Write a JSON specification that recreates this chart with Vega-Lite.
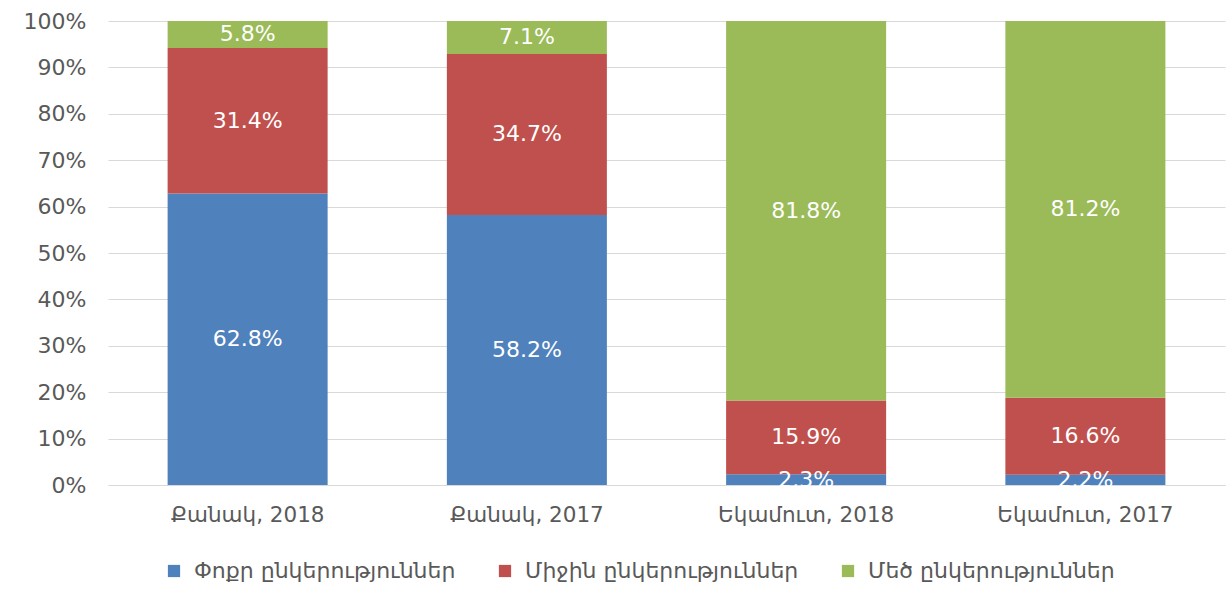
{
  "$schema": "https://vega.github.io/schema/vega-lite/v6.json",
  "autosize": "none",
  "width": 1117,
  "height": 464,
  "padding": {"left": 108, "top": 21, "right": 3, "bottom": 119},
  "background": "white",
  "config": {
    "view": {"stroke": null},
    "font": "DejaVu Sans"
  },
  "data": {
    "values": [
      {"cat": "Քանակ, 2018", "series": "Փոքր ընկերություններ", "order": 1, "v": 0.628},
      {"cat": "Քանակ, 2018", "series": "Միջին ընկերություններ", "order": 2, "v": 0.314},
      {"cat": "Քանակ, 2018", "series": "Մեծ ընկերություններ", "order": 3, "v": 0.058},
      {"cat": "Քանակ, 2017", "series": "Փոքր ընկերություններ", "order": 1, "v": 0.582},
      {"cat": "Քանակ, 2017", "series": "Միջին ընկերություններ", "order": 2, "v": 0.347},
      {"cat": "Քանակ, 2017", "series": "Մեծ ընկերություններ", "order": 3, "v": 0.071},
      {"cat": "Եկամուտ, 2018", "series": "Փոքր ընկերություններ", "order": 1, "v": 0.023},
      {"cat": "Եկամուտ, 2018", "series": "Միջին ընկերություններ", "order": 2, "v": 0.159},
      {"cat": "Եկամուտ, 2018", "series": "Մեծ ընկերություններ", "order": 3, "v": 0.818},
      {"cat": "Եկամուտ, 2017", "series": "Փոքր ընկերություններ", "order": 1, "v": 0.022},
      {"cat": "Եկամուտ, 2017", "series": "Միջին ընկերություններ", "order": 2, "v": 0.166},
      {"cat": "Եկամուտ, 2017", "series": "Մեծ ընկերություններ", "order": 3, "v": 0.812}
    ]
  },
  "transform": [
    {"stack": "v", "groupby": ["cat"], "sort": [{"field": "order", "order": "ascending"}], "as": ["v0", "v1"]},
    {"calculate": "(datum.v0 + datum.v1) / 2", "as": "mid"}
  ],
  "encoding": {
    "x": {
      "field": "cat",
      "type": "nominal",
      "sort": ["Քանակ, 2018", "Քանակ, 2017", "Եկամուտ, 2018", "Եկամուտ, 2017"],
      "scale": {"paddingInner": 0.427, "paddingOuter": 0.2135},
      "axis": {
        "title": null,
        "labelAngle": 0,
        "labelFontSize": 21.5,
        "labelColor": "#595959",
        "labelPadding": 19,
        "ticks": false,
        "domain": true,
        "domainColor": "#d9d9d9",
        "domainWidth": 1
      }
    }
  },
  "layer": [
    {
      "mark": {"type": "bar"},
      "encoding": {
        "y": {
          "field": "v0",
          "type": "quantitative",
          "scale": {"domain": [0, 1], "nice": false},
          "axis": {
            "title": null,
            "values": [0, 0.1, 0.2, 0.3, 0.4, 0.5, 0.6, 0.7, 0.8, 0.9, 1],
            "format": ".0%",
            "labelFontSize": 22,
            "labelColor": "#595959",
            "labelPadding": 22,
            "ticks": false,
            "domain": false,
            "grid": true,
            "gridColor": "#d9d9d9",
            "gridWidth": 1
          }
        },
        "y2": {"field": "v1"},
        "color": {
          "field": "series",
          "type": "nominal",
          "scale": {
            "domain": ["Փոքր ընկերություններ", "Միջին ընկերություններ", "Մեծ ընկերություններ"],
            "range": ["#4f81bd", "#c0504d", "#9bbb59"]
          },
          "legend": {
            "title": null,
            "orient": "none",
            "direction": "horizontal",
            "legendX": 55,
            "legendY": 539,
            "symbolType": "square",
            "symbolSize": 150,
            "symbolStrokeWidth": 0,
            "labelFontSize": 22,
            "labelLimit": 500,
            "labelColor": "#595959",
            "labelOffset": 9,
            "columnPadding": 38
          }
        }
      }
    },
    {
      "mark": {"type": "text", "color": "white", "fontSize": 22, "baseline": "middle", "align": "center"},
      "encoding": {
        "y": {"field": "mid", "type": "quantitative"},
        "text": {"field": "v", "type": "quantitative", "format": ".1%"}
      }
    }
  ]
}
